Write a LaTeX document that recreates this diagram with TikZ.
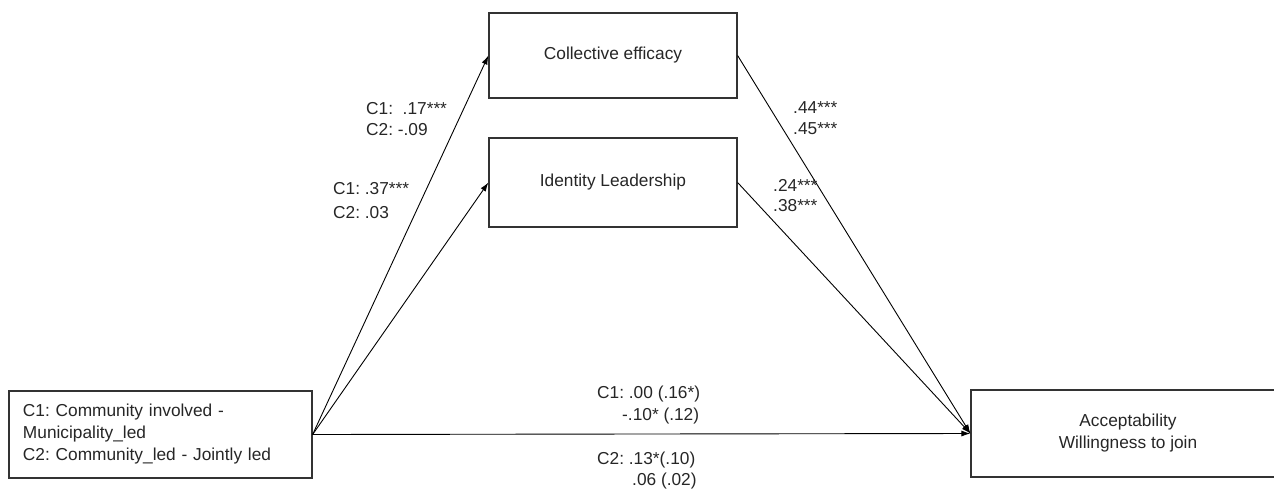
\documentclass[tikz,border=0pt]{standalone}
\usepackage{fontspec}
\setmainfont{Liberation Sans}
\usetikzlibrary{arrows.meta}
\frenchspacing
\begin{document}
\begin{tikzpicture}[x=1pt,y=-1pt,
  every node/.style={font=\fontsize{17.3}{22}\selectfont\frenchspacing, text=black!85},
  box/.style={draw=black!80, line width=1.2pt, inner sep=0pt, align=center},
  lbl/.style={anchor=base west, inner sep=0pt},
  arr/.style={draw=black, line width=0.9pt, -{Latex[length=9pt,width=6pt]}}]
\useasboundingbox (0,0) rectangle (1274,488);
\node[box, minimum width=303pt, minimum height=87pt, text width=275pt, align=left] (src) at (160.5,434.5)
  {C1: Community involved -\\Municipality\_led\\C2: Community\_led - Jointly led};
\node[box, minimum width=248pt, minimum height=85pt] (ce) at (613,55.5) {Collective efficacy};
\node[box, minimum width=248pt, minimum height=89pt] (il) at (613,182.5) {Identity Leadership};
\node[box, minimum width=314pt, minimum height=87pt] (out) at (1128,433.5) {Acceptability\\Willingness to join};
\draw[arr] (src.east) -- (ce.west);
\draw[arr] (src.east) -- (il.west);
\draw[arr] (src.east) -- (out.west);
\draw[arr] (ce.east) -- (out.west);
\draw[arr] (il.east) -- (out.west);
\node[lbl] (l1a) at (366,114) {C1:~~.17***};
\node[lbl] (l1b) at (366,135) {C2: -.09};
\node[lbl] (l2a) at (333,194) {C1: .37***};
\node[lbl] (l2b) at (333,218) {C2: .03};
\node[lbl] (r1a) at (793,113) {.44***};
\node[lbl] (r1b) at (793,134) {.45***};
\node[lbl] (r2a) at (773,191) {.24***};
\node[lbl] (r2b) at (773,211) {.38***};
\node[lbl] (b1) at (597,398) {C1: .00 (.16*)};
\node[lbl] (b2) at (622,420) {-.10* (.12)};
\node[lbl] (b3) at (597,464) {C2: .13*(.10)};
\node[lbl] (b4) at (632,485) {.06 (.02)};
\end{tikzpicture}
\end{document}
